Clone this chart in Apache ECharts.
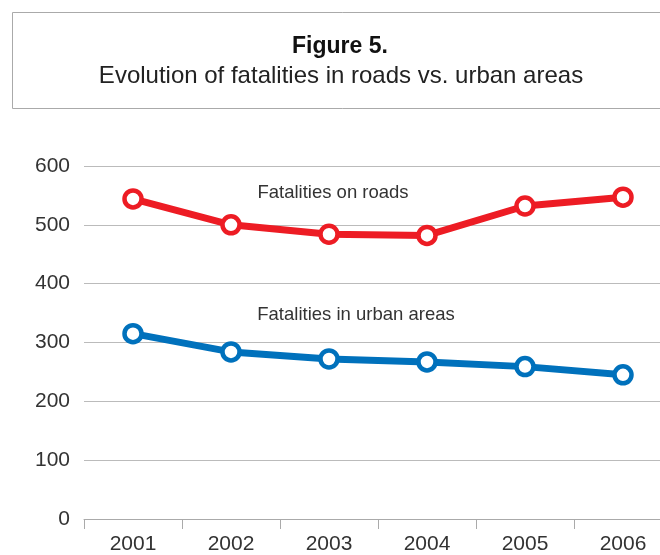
<!DOCTYPE html>
<html lang="en">
<head>
    <meta charset="UTF-8">
    <title>Figure 5</title>
    <style>
        body { margin: 0; background: #fff; overflow: hidden; }
        /* plot area runs past the right edge of the page in the original */
        #chart { width: 672px; height: 555px; }
    </style>
</head>
<body>
<div id="chart"></div>
<script src="https://cdn.jsdelivr.net/npm/echarts@6/dist/echarts.min.js"></script>
<script>
    var years = ['2001', '2002', '2003', '2004', '2005', '2006'];
    var roads = [544, 500, 484, 482, 532, 547];
    var urban = [315, 284, 272, 267, 259, 245];
    var yTicks = [0, 100, 200, 300, 400, 500, 600];

    var font = '"Liberation Sans", Arial, sans-serif';
    var myChart = echarts.init(document.getElementById('chart'));

    // series line + hollow circle markers
    function lineSeries(name, data, color) {
        return {
            name: name,
            type: 'line',
            data: data,
            symbol: 'circle',
            symbolSize: 17,
            lineStyle: { color: color, width: 7 },
            itemStyle: { color: '#fff', borderColor: color, borderWidth: 4.5 },
            z: 3
        };
    }

    var option = {
        animation: false,
        graphic: [
            {
                type: 'rect',
                shape: { x: 12.5, y: 12.5, width: 700, height: 96 },
                style: { fill: '#fff', stroke: '#aaaaaa', lineWidth: 1 }
            },
            {
                type: 'text', x: 340, y: 47,
                style: { text: 'Figure 5.', font: 'bold 23px ' + font, fill: '#111', align: 'center', verticalAlign: 'middle' }
            },
            {
                type: 'text', x: 341, y: 76,
                style: { text: 'Evolution of fatalities in roads vs. urban areas', font: '24px ' + font, fill: '#222', align: 'center', verticalAlign: 'middle' }
            },
            {
                type: 'text', x: 333, y: 193,
                style: { text: 'Fatalities on roads', font: '18.5px ' + font, fill: '#333', align: 'center', verticalAlign: 'middle' }
            },
            {
                type: 'text', x: 356, y: 315,
                style: { text: 'Fatalities in urban areas', font: '18.5px ' + font, fill: '#333', align: 'center', verticalAlign: 'middle' }
            }
        ],
        grid: { left: 84, right: 0, top: 166, bottom: 35 },
        xAxis: {
            type: 'category',
            data: years,
            boundaryGap: true,
            axisLine: { lineStyle: { color: '#aaaaaa', width: 1 } },
            axisTick: { show: true, length: 10, lineStyle: { color: '#aaaaaa' } },
            axisLabel: { color: '#333', fontSize: 21, fontFamily: font, margin: 15 }
        },
        yAxis: {
            type: 'value',
            min: yTicks[0],
            max: yTicks[yTicks.length - 1],
            interval: 100,
            axisLine: { show: false },
            axisTick: { show: false },
            axisLabel: { color: '#333', fontSize: 21, fontFamily: font, margin: 14 },
            splitLine: { lineStyle: { color: '#bbbbbb', width: 1 } }
        },
        series: [
            lineSeries('Fatalities on roads', roads, '#ed1c24'),
            lineSeries('Fatalities in urban areas', urban, '#0071bc')
        ]
    };
    myChart.setOption(option);
</script>
</body>
</html>
